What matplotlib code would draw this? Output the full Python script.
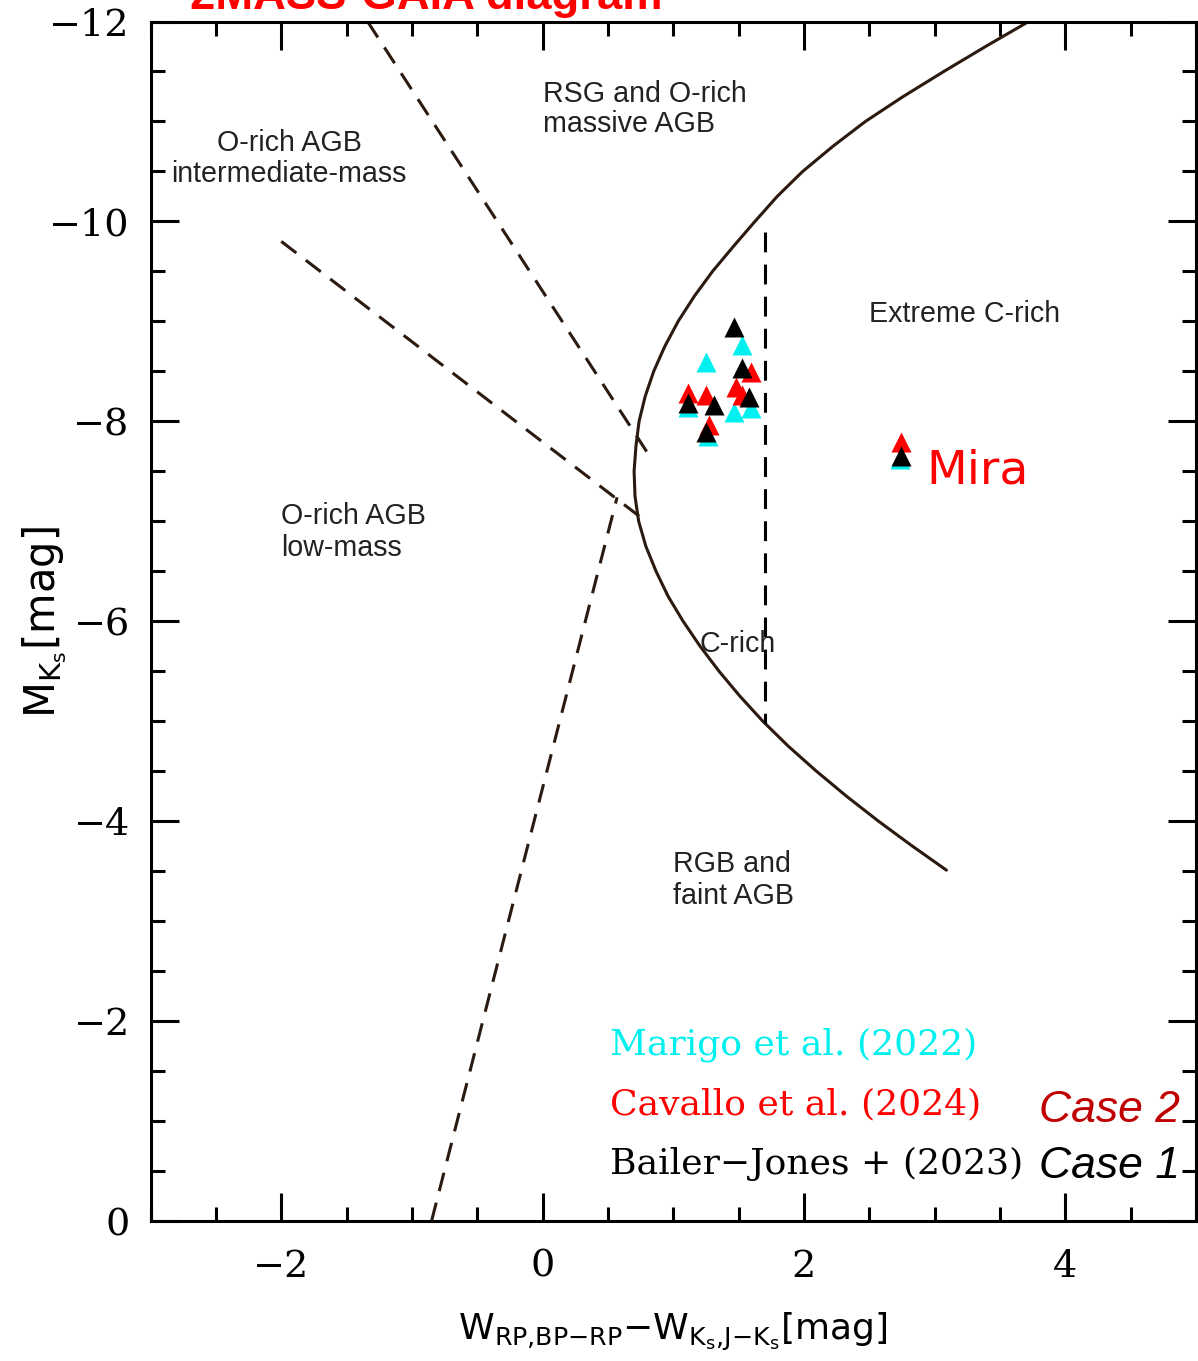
import matplotlib.pyplot as plt
import numpy as np

plt.rcParams['mathtext.fontset'] = 'dejavusans'

# Step 1: Data
# solid boundary curve (O-rich / C-rich separation), read every 0.25 mag
curve_y = [-12.0, -11.75, -11.5, -11.25, -11.0, -10.75, -10.5, -10.25, -10.0, -9.75,
           -9.5, -9.25, -9.0, -8.75, -8.5, -8.25, -8.0, -7.75, -7.5, -7.25,
           -7.0, -6.75, -6.5, -6.25, -6.0, -5.75, -5.5, -5.25, -5.0, -4.75,
           -4.5, -4.25, -4.0, -3.75, -3.51]
curve_x = [3.72, 3.39, 3.07, 2.76, 2.47, 2.22, 1.99, 1.795, 1.625, 1.46,
           1.30, 1.16, 1.037, 0.935, 0.85, 0.785, 0.738, 0.714, 0.70, 0.707,
           0.735, 0.79, 0.868, 0.96, 1.075, 1.205, 1.35, 1.51, 1.685, 1.88,
           2.095, 2.325, 2.57, 2.83, 3.09]

# dashed boundaries
dash1_x = [-1.34, 0.80]
dash1_y = [-12.0, -7.69]
dash2_x = [-2.00, 0.80]
dash2_y = [-9.80, -6.99]
dash3_x = [-0.85, 0.57]
dash3_y = [0.0, -7.24]
vline_x = [1.70, 1.70]
vline_y = [-9.89, -4.98]

# stars (last point of each series is Mira)
marigo_x = [1.529, 1.254, 1.468, 1.598, 1.109, 1.269, 2.737]
marigo_y = [-8.76, -8.59, -8.09, -8.13, -8.14, -7.85, -7.62]
cavallo_x = [1.109, 1.254, 1.598, 1.483, 1.529, 1.277, 2.745]
cavallo_y = [-8.28, -8.26, -8.49, -8.34, -8.26, -7.96, -7.79]
bailer_x = [1.468, 1.529, 1.109, 1.315, 1.583, 1.254, 2.745]
bailer_y = [-8.94, -8.53, -8.18, -8.16, -8.24, -7.89, -7.65]

# Step 2: Plotting
fig = plt.figure(figsize=(11.98, 13.61), dpi=100)
ax = fig.add_axes([150.6 / 1198, 140 / 1361, 1045.4 / 1198, 1199.5 / 1361])

line_col = '#2a1a10'
ax.plot(curve_x, curve_y, color=line_col, lw=2.2, solid_capstyle='round')
for xs, ys in [(dash1_x, dash1_y), (dash2_x, dash2_y), (dash3_x, dash3_y)]:
    ax.plot(xs, ys, color=line_col, lw=2.2, ls=(0, (6.2, 3.9)))
ax.plot(vline_x, vline_y, color='black', lw=2.2, ls=(0, (6.5, 4.0)))

ms = 14
ax.plot(marigo_x, marigo_y, '^', color='#00f0f0', ms=ms, mec='none')
ax.plot(cavallo_x, cavallo_y, '^', color='#ff0000', ms=ms, mec='none')
ax.plot(bailer_x, bailer_y, '^', color='black', ms=ms, mec='none')

# region labels
lab = dict(fontfamily='Liberation Sans', fontsize=20.6, color='#222222', va='baseline')
ax.text(0.0, -11.19, 'RSG and O-rich', **lab)
ax.text(0.0, -10.89, 'massive AGB', **lab)
ax.text(-1.94, -10.70, 'O-rich AGB', ha='center', **lab)
ax.text(-1.94, -10.39, 'intermediate-mass', ha='center', **lab)
ax.text(2.50, -8.99, 'Extreme C-rich', **lab)
ax.text(-2.0, -6.97, 'O-rich AGB', **lab)
ax.text(-2.0, -6.65, 'low-mass', **lab)
ax.text(1.20, -5.69, 'C-rich', **lab)
ax.text(1.0, -3.49, 'RGB and', **lab)
ax.text(1.0, -3.17, 'faint AGB', **lab)

ax.text(2.936, -7.38, 'Mira', color='red', fontsize=34, va='baseline')

# legend-like annotations
leg = dict(fontfamily='DejaVu Serif', fontsize=26, va='baseline')
ax.text(0.512, -1.67, 'Marigo et al. (2022)', color='#00f0f0', **leg)
ax.text(0.512, -1.07, 'Cavallo et al. (2024)', color='#ff0000', **leg)
ax.text(0.512, -0.47, 'Bailer\u2212Jones + (2023)', color='black', **leg)
case = dict(fontfamily='Liberation Sans', style='italic', fontsize=32, va='baseline')
ax.text(3.80, -0.99, 'Case 2', color='#c00000', **case)
ax.text(3.80, -0.43, 'Case 1', color='black', **case)

# axes, ticks
ax.set_xlim(-3, 5)
ax.set_ylim(0, -12)
ax.set_xticks([-2, 0, 2, 4])
ax.set_xticks(np.arange(-3, 5.01, 0.5), minor=True)
ax.set_yticks(np.arange(-12, 0.1, 2))
ax.set_yticks(np.arange(-12, 0.1, 0.5), minor=True)
ax.tick_params(which='both', direction='in', top=True, right=True, width=2.2, color='black')
ax.tick_params(which='major', length=20)
ax.tick_params(which='minor', length=10)
ax.tick_params(axis='x', pad=20)
ax.tick_params(axis='y', pad=15)
for t in ax.get_xticklabels() + ax.get_yticklabels():
    t.set_fontfamily('DejaVu Serif')
    t.set_fontsize(27.5)
for s in ax.spines.values():
    s.set_linewidth(2.2)

fig.text(673 / 1198, 1 - 1340 / 1361,
         r'$\mathrm{W_{RP{,}BP{-}RP}{-}W_{K_s{,}J{-}K_s}}$[mag]',
         ha='center', va='baseline', fontsize=26)
fig.text(45 / 1198, 1 - 622 / 1361, r'$\mathrm{M_{K_s}}$[mag]',
         rotation=90, ha='center', va='center', fontsize=30)

# title, mostly cut off at the top edge
fig.text(190 / 1198, 1 - 9 / 1361, '2MASS-GAIA diagram', color='red',
         fontfamily='Liberation Sans', fontweight='bold', fontsize=32.7,
         ha='left', va='baseline')

plt.savefig('out.png', dpi=100)
